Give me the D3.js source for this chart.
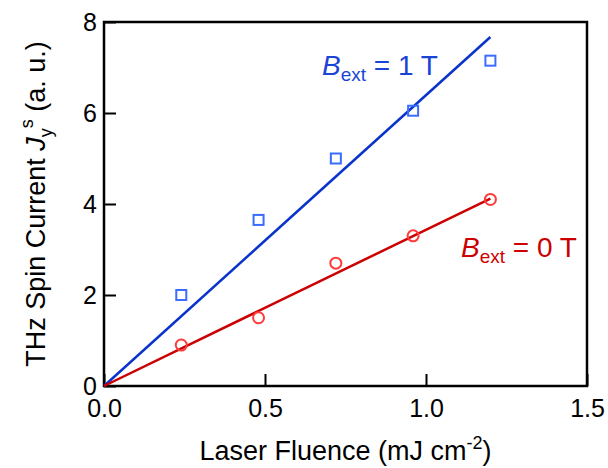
<!DOCTYPE html>
<html>
<head>
<meta charset="utf-8">
<script src="https://cdn.jsdelivr.net/npm/d3@7"></script>
<style>
	body { margin: 0; background: #fff; }
	text { font-family: 'Liberation Sans', Arial, sans-serif; }
</style>
</head>
<body>
<svg></svg>
<script>
'use strict'

// fluence (mJ cm^-2)
let fluence = [0.24, 0.48, 0.72, 0.96, 1.2]
// spin current, B = 1 T and B = 0 T
let oneTesla = [2.0, 3.65, 5.0, 6.05, 7.15]
let zeroTesla = [0.9, 1.5, 2.7, 3.3, 4.1]
// linear fits through origin: [x, y] ends
let fitOne = [[0, 0], [1.2, 7.67]]
let fitZero = [[0, 0], [1.2, 4.12]]

let xTicks = [0, 0.5, 1.0, 1.5]
let yTicks = [0, 2, 4, 6, 8]

let width = 608,
	height = 468

let margin = { left: 104, right: 21, top: 22, bottom: 82 }

let svg = d3.select('svg')
	.attr('width', width)
	.attr('height', height)

let x = d3.scaleLinear()
	.domain([0, 1.5])
	.range([margin.left, width - margin.right])

let y = d3.scaleLinear()
	.domain([0, 8])
	.range([height - margin.bottom, margin.top])

let blueLine = '#0a33cc',
	blueMark = '#3a6cff',
	redLine = '#cc0000',
	redMark = '#ff3b3b'

// axes with inward ticks
let xAxis = svg.append('g')
	.attr('transform', 'translate(0,' + y(0) + ')')
	.call(d3.axisBottom(x).tickValues(xTicks).tickFormat(d3.format('.1f')).tickSizeInner(-12).tickSizeOuter(0).tickPadding(13))

let yAxis = svg.append('g')
	.attr('transform', 'translate(' + x(0) + ',0)')
	.call(d3.axisLeft(y).tickValues(yTicks).tickFormat(d3.format('d')).tickSizeInner(-12).tickSizeOuter(0).tickPadding(7))

svg.selectAll('.tick line').attr('stroke', '#000').attr('stroke-width', 2)
svg.selectAll('.domain').remove()
svg.selectAll('.tick text')
	.attr('fill', '#000')
	.style('font-size', '25px')

// frame
svg.append('rect')
	.attr('x', x(0))
	.attr('y', y(8))
	.attr('width', x(1.5) - x(0))
	.attr('height', y(0) - y(8))
	.attr('fill', 'none')
	.attr('stroke', '#000')
	.attr('stroke-width', 2.5)

let line = d3.line()
	.x(function(d) { return x(d[0]) })
	.y(function(d) { return y(d[1]) })

svg.append('path')
	.datum(fitOne)
	.attr('d', line)
	.attr('fill', 'none')
	.attr('stroke', blueLine)
	.attr('stroke-width', 2.5)

svg.append('path')
	.datum(fitZero)
	.attr('d', line)
	.attr('fill', 'none')
	.attr('stroke', redLine)
	.attr('stroke-width', 2.5)

let s = 10
svg.append('g')
	.selectAll('rect')
	.data(fluence)
	.enter().append('rect')
	.attr('x', function(d) { return x(d) - s / 2 })
	.attr('y', function(d, i) { return y(oneTesla[i]) - s / 2 })
	.attr('width', s)
	.attr('height', s)
	.attr('fill', 'none')
	.attr('stroke', blueMark)
	.attr('stroke-width', 2)

svg.append('g')
	.selectAll('circle')
	.data(fluence)
	.enter().append('circle')
	.attr('cx', function(d) { return x(d) })
	.attr('cy', function(d, i) { return y(zeroTesla[i]) })
	.attr('r', 5.5)
	.attr('fill', 'none')
	.attr('stroke', redMark)
	.attr('stroke-width', 2)

// B_ext labels
function bLabel(px, py, val, col) {
	let t = svg.append('text')
		.attr('x', px)
		.attr('y', py)
		.attr('fill', col)
		.style('font-size', '28px')
	t.append('tspan').style('font-style', 'italic').text('B')
	t.append('tspan').attr('dy', 6).style('font-size', '19px').text('ext')
	t.append('tspan').attr('dy', -6).text(' = ' + val + ' T')
}
bLabel(322, 75, 1, '#1a44d6')
bLabel(461, 257, 0, '#cc0000')

// axis titles
let xt = svg.append('text')
	.attr('x', (x(0) + x(1.5)) / 2)
	.attr('y', 460)
	.attr('text-anchor', 'middle')
	.style('font-size', '27px')
xt.append('tspan').text('Laser Fluence (mJ cm')
xt.append('tspan').attr('dy', -11).style('font-size', '18px').text('-2')
xt.append('tspan').attr('dy', 11).text(')')

let yt = svg.append('text')
	.attr('transform', 'translate(45,' + (y(0) + y(8)) / 2 + ') rotate(-90)')
	.attr('text-anchor', 'middle')
	.style('font-size', '27px')
yt.append('tspan').text('THz Spin Current ')
yt.append('tspan').style('font-style', 'italic').text('J')
yt.append('tspan').attr('dy', 7).style('font-size', '18px').text('y')
yt.append('tspan').attr('dy', -19).style('font-size', '18px').text('s')
yt.append('tspan').attr('dy', 12).text(' (a. u.)')
</script>
</body>
</html>
